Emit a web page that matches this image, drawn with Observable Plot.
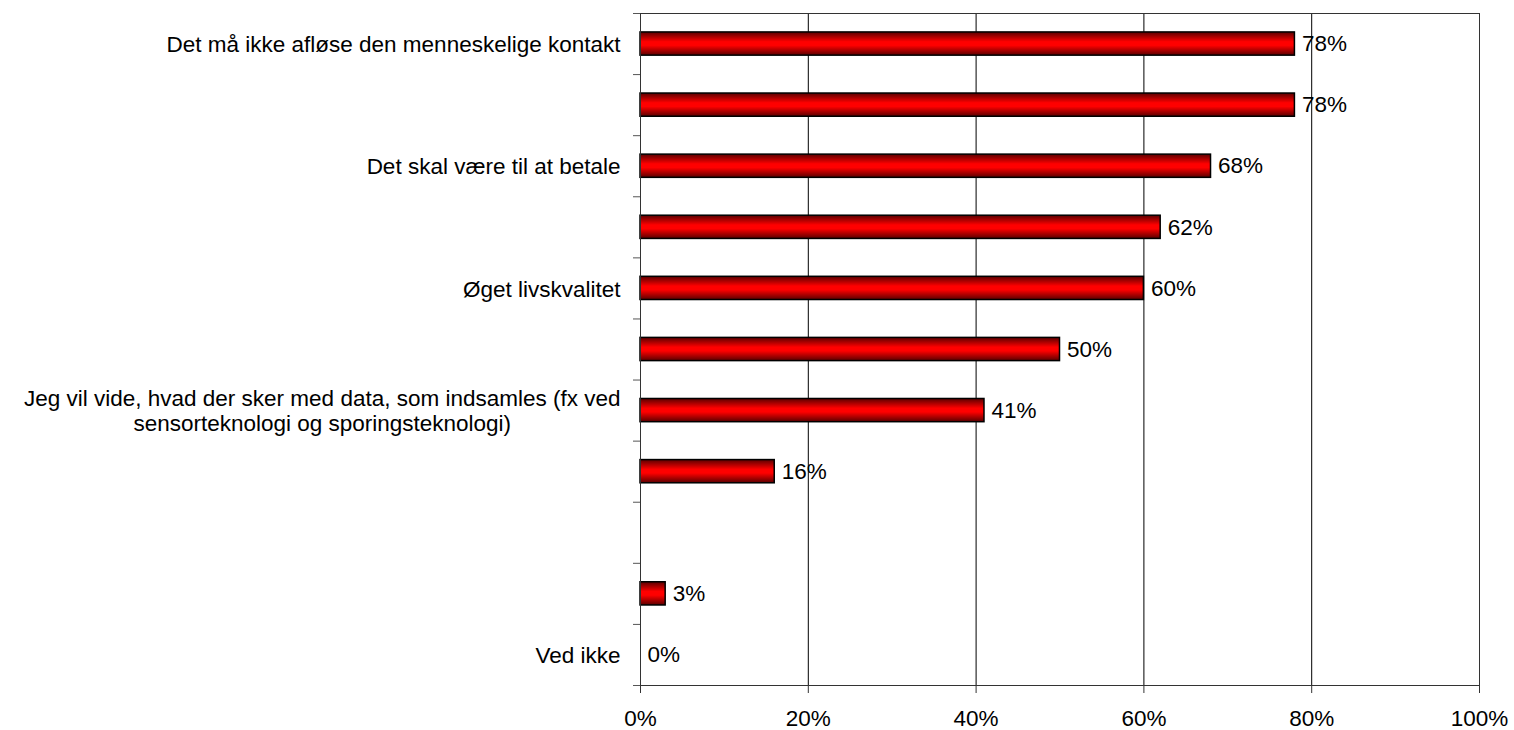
<!DOCTYPE html>
<html><head><meta charset="utf-8">
<script src="https://cdn.jsdelivr.net/npm/d3@7"></script>
<script src="https://cdn.jsdelivr.net/npm/@observablehq/plot@0.6"></script>
<style>body{margin:0;background:#fff;}</style>
</head><body><div id="chart"></div>
<script>
const categories = [
  "Det må ikke afløse den menneskelige kontakt",
  "",
  "Det skal være til at betale",
  "",
  "Øget livskvalitet",
  "",
  "Jeg vil vide, hvad der sker med data, som indsamles (fx ved\nsensorteknologi og sporingsteknologi)",
  "",
  "",
  "",
  "Ved ikke"
];
const values = [78, 78, 68, 62, 60, 50, 41, 16, null, 3, 0];
const xTicks = [0, 20, 40, 60, 80, 100];

const data = categories.map((label, i) => ({i, label, value: values[i]}));
const bars = data.filter(d => d.value != null);

const chart = Plot.plot({
  width: 1514, height: 730,
  marginLeft: 640, marginRight: 35, marginTop: 13, marginBottom: 45,
  style: {fontFamily: "'Liberation Sans', Arial, sans-serif", fontSize: "22.5px", color: "#000", background: "#fff"},
  x: {domain: [0, 100], axis: null},
  y: {domain: [categories.length, 0], axis: null},
  marks: [
    Plot.gridX(xTicks, {stroke: "#000", strokeOpacity: 1, strokeWidth: 1}),
    Plot.axisX({ticks: xTicks, tickFormat: d => d + "%", tickSize: 8, tickPadding: 17, stroke: "#333", label: null}),
    Plot.axisY({ticks: d3.range(categories.length + 1), tickFormat: () => "", tickSize: 7, stroke: "#555", label: null}),
    Plot.rectX(bars, {x1: 0, x2: "value", y1: d => d.i + 0.31, y2: d => d.i + 0.69, fill: "url(#barGrad)", stroke: "#000", strokeWidth: 1.5}),
    Plot.text(bars, {x: "value", y: d => d.i + 0.5, text: d => d.value + "%", textAnchor: "start", dx: 7, fill: "#000"}),
    Plot.text(data, {x: 0, y: d => d.i + 0.5, text: "label", textAnchor: "end", dx: -20, lineHeight: 1.13, fill: "#000"}),
    Plot.frame({stroke: "#333"})
  ]
});

const defs = d3.select(chart).insert("defs", ":first-child");
const g = defs.append("linearGradient").attr("id", "barGrad").attr("x1", 0).attr("y1", 0).attr("x2", 0).attr("y2", 1);
[[0, "#5a0000"], [0.42, "#ff0000"], [0.58, "#ff0000"], [1, "#5a0000"]].forEach(([o, c]) =>
  g.append("stop").attr("offset", o).attr("stop-color", c));

document.getElementById("chart").appendChild(chart);

// center multi-line category labels under their right-aligned block
d3.select(chart).selectAll("text").each(function() {
  const tspans = this.querySelectorAll("tspan");
  if (tspans.length > 1) {
    let w = 0;
    tspans.forEach(t => { w = Math.max(w, t.getComputedTextLength()); });
    this.setAttribute("text-anchor", "middle");
    tspans.forEach(t => t.setAttribute("x", -w / 2));
  }
});
</script>
</body></html>
